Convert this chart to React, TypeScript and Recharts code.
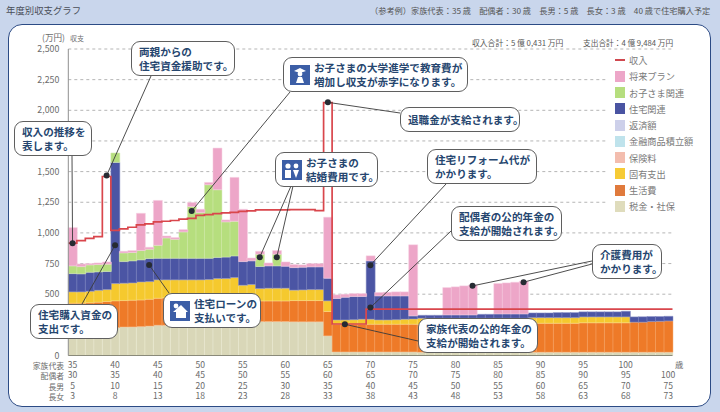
import React from 'react';
import { Bar, CartesianGrid, ComposedChart, Line, ReferenceDot, XAxis, YAxis } from 'recharts';

const ages = [
  35, 36, 37, 38, 39, 40, 41, 42, 43, 44, 45, 46, 47, 48, 49, 50, 51, 52, 53, 54,
  55, 56, 57, 58, 59, 60, 61, 62, 63, 64, 65, 66, 67, 68, 69, 70, 71, 72, 73, 74,
  75, 76, 77, 78, 79, 80, 81, 82, 83, 84, 85, 86, 87, 88, 89, 90, 91, 92, 93, 94,
  95, 96, 97, 98, 99, 100, 101, 102, 103, 104, 105,
];

const taxes = [
  215, 215, 218, 220, 222, 228, 233, 233, 236, 240, 247, 247, 247, 247, 250, 252, 258, 262, 268, 272,
  277, 277, 277, 277, 277, 277, 275, 275, 275, 275, 160, 29, 29, 29, 29, 29, 29, 29, 29, 29,
  29, 27, 27, 27, 27, 27, 27, 27, 27, 27, 27, 27, 27, 27, 27, 27, 27, 27, 27, 27,
  27, 27, 27, 27, 27, 27, 27, 27, 27, 27, 27,
];
const living = [
  212, 212, 212, 215, 218, 218, 215, 218, 217, 219, 220, 223, 223, 223, 220, 218, 212, 208, 202, 198,
  166, 166, 168, 168, 168, 168, 173, 173, 173, 173, 199, 226, 226, 226, 226, 226, 226, 226, 226, 226,
  226, 226, 226, 226, 226, 226, 226, 226, 226, 226, 226, 226, 226, 226, 236, 236, 236, 236, 236, 236,
  240, 240, 240, 240, 240, 240, 245, 245, 250, 252, 255,
];
const fixedCosts = [
  92, 92, 94, 97, 98, 141, 142, 141, 147, 144, 150, 147, 147, 147, 147, 147, 150, 158, 158, 166,
  130, 136, 101, 104, 104, 104, 85, 87, 90, 90, 87, 35, 35, 37, 41, 41, 35, 35, 37, 41,
  43, 51, 51, 51, 51, 51, 51, 51, 51, 51, 51, 51, 51, 51, 46, 46, 46, 46, 46, 46,
  48, 48, 48, 48, 48, 48, 0, 0, 0, 0, 0,
];
const housing = [
  149, 147, 155, 150, 147, 988, 176, 180, 180, 188, 176, 176, 176, 176, 176, 176, 173, 172, 175, 176,
  193, 193, 180, 182, 182, 179, 184, 185, 185, 185, 184, 175, 185, 189, 185, 476, 196, 196, 194, 190,
  25, 24, 24, 24, 27, 27, 27, 27, 32, 32, 35, 35, 35, 35, 38, 38, 38, 41, 41, 41,
  41, 41, 41, 41, 41, 46, 43, 44, 41, 39, 38,
];
const children = [
  63, 59, 60, 60, 60, 77, 71, 68, 76, 76, 106, 166, 155, 215, 422, 373, 600, 552, 287, 283,
  0, 0, 100, 0, 95, 0, 0, 0, 0, 0, 0, 0, 0, 0, 0, 0, 0, 0, 0, 0,
  0, 0, 0, 0, 0, 0, 0, 0, 0, 0, 0, 0, 0, 0, 0, 0, 0, 0, 0, 0,
  0, 0, 0, 0, 0, 0, 0, 0, 0, 0, 0,
];
const plans = [
  312, 22, 11, 13, 18, 0, 13, 16, 304, 16, 366, 16, 14, 19, 33, 27, 19, 340, 16, 358,
  427, 24, 24, 24, 30, 35, 25, 19, 27, 27, 498, 30, 25, 24, 24, 41, 28, 30, 33, 33,
  580, 0, 0, 0, 223, 229, 237, 243, 0, 0, 248, 253, 259, 267, 0, 0, 0, 0, 0, 0,
  0, 0, 0, 0, 0, 0, 0, 0, 0, 0, 0,
];
const income = [
  916, 937, 956, 970, 1460, 1020, 1033, 1046, 1065, 1074, 1090, 1095, 1101, 1112, 1118, 1143, 1149, 1157, 1163, 1168,
  1176, 1180, 1187, 1187, 1187, 1187, 1190, 1190, 1190, 1182, 2062, 257, 257, 257, 257, 378, 378, 378, 378, 378,
  378, 378, 378, 378, 378, 378, 378, 378, 378, 378, 378, 378, 378, 378, 378, 378, 378, 378, 378, 378,
  378, 378, 378, 378, 378, 378, 378, 378, 378, 378, 378,
];

// 250 and 1,750 sit under callouts in the reference, so only their grid lines show
const gridValues = [0, 250, 500, 750, 1000, 1250, 1500, 1750, 2000, 2250, 2500];
const yTicks = [0, 500, 750, 1000, 1250, 1500, 2000, 2250, 2500];
const repTicks = ['35', '40', '45', '50', '55', '60', '65', '70', '75', '80', '85', '90', '95', '100', ''];
const spouseTicks = ['30', '35', '40', '45', '50', '55', '60', '65', '70', '75', '80', '85', '90', '95', '100'];
const sonTicks = ['5', '10', '15', '20', '25', '30', '35', '40', '45', '50', '55', '60', '65', '70', '75'];
const daughterTicks = ['3', '8', '13', '18', '23', '28', '33', '38', '43', '48', '53', '58', '63', '68', '73'];
const rowNames = ['家族代表', '配偶者', '長男', '長女'];

const legendNames = ['収入', '将来プラン', 'お子さま関連', '住宅関連', '返済額', '金融商品積立額', '保険料', '固有支出', '生活費', '税金・社保'];
const legendColors = ['#d0484f', '#eda6c8', '#b6de7e', '#4a54a2', '#cdd0ea', '#bfe3ec', '#f3bdae', '#f6cb35', '#e07a3c', '#dfdcbc'];

const chartData = ages.map((age, i) => ({
  age,
  taxes: taxes[i],
  living: living[i],
  fixedCosts: fixedCosts[i],
  housing: housing[i],
  children: children[i],
  plans: plans[i],
}));

// income steps change at the bar edges, so the line gets its own axis of edges
const incomeEdges = ages.map((age, i) => ({ edge: age - 0.5, income: income[i] }));
incomeEdges.push({ edge: 105.5, income: income[income.length - 1] });

const FONT = '"Noto Sans CJK JP", "Noto Sans", sans-serif';
const GREY = '#6b6b6b';
const NAVY = '#26466f';

// leader lines: data anchor -> edge of the callout (px)
const leaders = [
  { age: 35, value: 916, tx: 72, ty: 156 },
  { age: 39, value: 1468, tx: 151, ty: 76 },
  { age: 49, value: 1178, tx: 290, ty: 92 },
  { age: 65, value: 2065, tx: 400, ty: 113 },
  { age: 57, value: 802, tx: 291, ty: 186 },
  { age: 59, value: 802, tx: 293, ty: 186 },
  { age: 70, value: 737, tx: 446, ty: 184 },
  { age: 70, value: 391, tx: 451, ty: 231 },
  { age: 82, value: 568, tx: 592, ty: 261 },
  { age: 88, value: 598, tx: 592, ty: 264 },
  { age: 67, value: 255, tx: 418, ty: 341 },
  { age: 40, value: 900, tx: 82, ty: 304 },
  { age: 44, value: 739, tx: 169, ty: 293 },
];

const callouts = [
  { lines: ['両親からの', '住宅資金援助です。'], left: 131, top: 41, width: 104, height: 35, icon: '' },
  { lines: ['収入の推移を', '表します。'], left: 14, top: 121, width: 78, height: 35, icon: '' },
  { lines: ['お子さまの大学進学で教育費が', '増加し収支が赤字になります。'], left: 283, top: 57, width: 185, height: 35, icon: 'school' },
  { lines: ['退職金が支給されます。'], left: 400, top: 107, width: 120, height: 25, icon: '' },
  { lines: ['お子さまの', '結婚費用です。'], left: 275, top: 152, width: 103, height: 35, icon: 'wedding' },
  { lines: ['住宅リフォーム代が', 'かかります。'], left: 427, top: 149, width: 110, height: 35, icon: '' },
  { lines: ['配偶者の公的年金の', '支給が開始されます。'], left: 451, top: 206, width: 111, height: 35, icon: '' },
  { lines: ['介護費用が', 'かかります。'], left: 592, top: 244, width: 70, height: 35, icon: '' },
  { lines: ['家族代表の公的年金の', '支給が開始されます。'], left: 418, top: 318, width: 120, height: 35, icon: '' },
  { lines: ['住宅購入資金の', '支出です。'], left: 30, top: 304, width: 88, height: 35, icon: '' },
  { lines: ['住宅ローンの', '支払いです。'], left: 163, top: 293, width: 98, height: 35, icon: 'house' },
];

function Icon({ kind }: { kind: string }) {
  return (
    <svg width={20} height={20} viewBox="0 0 20 20" style={{ flex: 'none', marginRight: 4 }}>
      <rect width={20} height={20} fill="#3c5ea6" />
      {kind === 'house' && (
        <g fill="#fff">
          <path d="M3 11 L11 4 L18 11 L16 11 L16 17 L6 17 L6 11 Z" />
          <circle cx={6} cy={5} r={2.4} />
        </g>
      )}
      {kind === 'school' && (
        <g fill="#fff">
          <path d="M4 6 L10 3 L16 6 L10 8 Z" />
          <circle cx={10} cy={9} r={2.4} />
          <path d="M6 18 L8 12 L12 12 L14 18 Z" />
        </g>
      )}
      {kind === 'wedding' && (
        <g fill="#fff">
          <circle cx={6} cy={6} r={2.6} />
          <circle cx={14} cy={6} r={2.4} />
          <path d="M3 18 L3 10 L9 10 L9 18 Z" />
          <path d="M11 10 L17 10 L14 18 Z" />
        </g>
      )}
    </svg>
  );
}

function Callout({ lines, left, top, width, height, icon }: (typeof callouts)[number]) {
  return (
    <div
      style={{
        position: 'absolute', left, top, width, height, boxSizing: 'border-box',
        display: 'flex', alignItems: 'center', padding: icon ? '0 0 0 6px' : '0 0 0 7px',
        background: '#fff', border: '1.2px solid #5f5f5f', borderRadius: 9,
        color: NAVY, fontWeight: 700, fontSize: 10.6, lineHeight: '14px', whiteSpace: 'nowrap',
      }}
    >
      {icon && <Icon kind={icon} />}
      <div>
        {lines.map((t) => (
          <div key={t}>{t}</div>
        ))}
      </div>
    </div>
  );
}

function AgeTick({ x, payload }: any) {
  const i = Math.round((payload.value - 35) / 5);
  const rows = [repTicks[i], spouseTicks[i], sonTicks[i], daughterTicks[i]];
  const ys = [367.5, 378, 388.5, 399];
  return (
    <g>
      {rows.map((t, r) => (
        <text key={r} x={x} y={ys[r]} textAnchor="middle" fontSize={8.6} fill={GREY} fontFamily={FONT}>
          {t}
        </text>
      ))}
    </g>
  );
}

function LeaderDot({ cx, cy, tx, ty }: any) {
  return (
    <g>
      <line x1={cx} y1={cy} x2={tx} y2={ty} stroke="#3a3a3a" strokeWidth={0.9} />
      <circle cx={cx} cy={cy} r={3} fill="#262b33" />
    </g>
  );
}

function Text({ left, top, size, color = GREY, weight = 400, children }: any) {
  return (
    <div style={{ position: 'absolute', left, top, fontSize: size, color, fontWeight: weight, whiteSpace: 'pre', lineHeight: 1 }}>
      {children}
    </div>
  );
}

export default function App() {
  return (
    <div style={{ position: 'absolute', left: 0, top: 0, width: 720, height: 412, overflow: 'hidden', background: '#c9d6ec', fontFamily: FONT }}>
      <div
        style={{
          position: 'absolute', left: 8, top: 24, width: 703, height: 383, boxSizing: 'border-box',
          background: '#fff', border: '1.6px solid #2c4b85', borderRadius: 14,
        }}
      />

      <Text left={6} top={6} size={9.4} color="#4a4f58">年度別収支グラフ</Text>
      <Text left={370} top={6} size={8.2} color="#555">（参考例）家族代表：35 歳　配偶者：30 歳　長男：5 歳　長女：3 歳　40 歳で住宅購入予定</Text>
      <Text left={472} top={39} size={7.8} color="#555">収入合計：5 億 0,431 万円</Text>
      <Text left={583} top={39} size={7.7} color="#555">支出合計：4 億 9,484 万円</Text>
      <Text left={42} top={33} size={8.6}>(万円)</Text>
      <Text left={70} top={35} size={7}>収支</Text>
      <Text left={675} top={360} size={8.4}>歳</Text>
      {rowNames.map((name, i) => (
        <div
          key={name}
          style={{ position: 'absolute', right: 656, top: [361.5, 372, 382.5, 393][i], fontSize: 7.8, lineHeight: 1, color: GREY }}
        >
          {name}
        </div>
      ))}

      <div style={{ position: 'absolute', left: 0, top: 0 }}>
        <ComposedChart
          width={720}
          height={412}
          data={chartData}
          barCategoryGap={0}
          margin={{ top: 49, right: 47.5, bottom: 0, left: 0 }}
        >
          <CartesianGrid
            horizontal
            vertical={false}
            horizontalValues={gridValues}
            stroke="#b5b5b5"
            strokeDasharray="3 3"
          />
          <XAxis
            dataKey="age"
            type="category"
            interval={4}
            height={56.5}
            tick={<AgeTick />}
            tickLine={false}
            axisLine={{ stroke: '#8a8a7a' }}
          />
          <XAxis xAxisId="edge" dataKey="edge" type="number" domain={[34.5, 105.5]} hide />
          <YAxis
            width={68.3}
            domain={[0, 2500]}
            ticks={yTicks}
            interval={0}
            tickFormatter={(v: number) => v.toLocaleString('en-US')}
            tick={{ fontSize: 8.8, fill: GREY, fontFamily: FONT }}
            tickLine={false}
            tickMargin={3}
            axisLine={{ stroke: '#8f8f8f' }}
          />
          <Bar dataKey="taxes" stackId="a" fill="#d9d7b8" stroke="#f1f0dc" strokeWidth={0.5} isAnimationActive={false} />
          <Bar dataKey="living" stackId="a" fill="#ee7a28" stroke="#f6b27d" strokeWidth={0.5} isAnimationActive={false} />
          <Bar dataKey="fixedCosts" stackId="a" fill="#f5c92e" stroke="#fae08a" strokeWidth={0.5} isAnimationActive={false} />
          <Bar dataKey="housing" stackId="a" fill="#4b55a4" stroke="#8f95c8" strokeWidth={0.5} isAnimationActive={false} />
          <Bar dataKey="children" stackId="a" fill="#b6de7e" stroke="#d9edb8" strokeWidth={0.5} isAnimationActive={false} />
          <Bar dataKey="plans" stackId="a" fill="#eda6c8" stroke="#f6d0e2" strokeWidth={0.5} isAnimationActive={false} />
          <Line
            data={incomeEdges}
            xAxisId="edge"
            dataKey="income"
            type="stepAfter"
            stroke="#d9464c"
            strokeWidth={1.7}
            dot={false}
            isAnimationActive={false}
          />
          {leaders.map((l, i) => (
            <ReferenceDot
              key={i}
              x={l.age}
              y={l.value}
              ifOverflow="visible"
              shape={(p: any) => <LeaderDot cx={p.cx} cy={p.cy} tx={l.tx} ty={l.ty} />}
            />
          ))}
        </ComposedChart>
      </div>

      {/* legend sits on a white patch: the grid lines stop short of it */}
      <div style={{ position: 'absolute', left: 607, top: 52, width: 98, height: 162, background: '#fff' }} />
      {legendNames.map((name, i) => (
        <div key={name} style={{ position: 'absolute', left: 614.5, top: 52 + i * 16.25, height: 16, display: 'flex', alignItems: 'center' }}>
          <span
            style={{
              display: 'inline-block', width: 10.5, height: i === 0 ? 2 : 11,
              background: legendColors[i], marginRight: 4,
            }}
          />
          <span style={{ fontSize: 9.2, color: '#7b7b7b', whiteSpace: 'nowrap' }}>{name}</span>
        </div>
      ))}

      {callouts.map((c) => (
        <Callout key={c.lines[0]} {...c} />
      ))}
    </div>
  );
}
